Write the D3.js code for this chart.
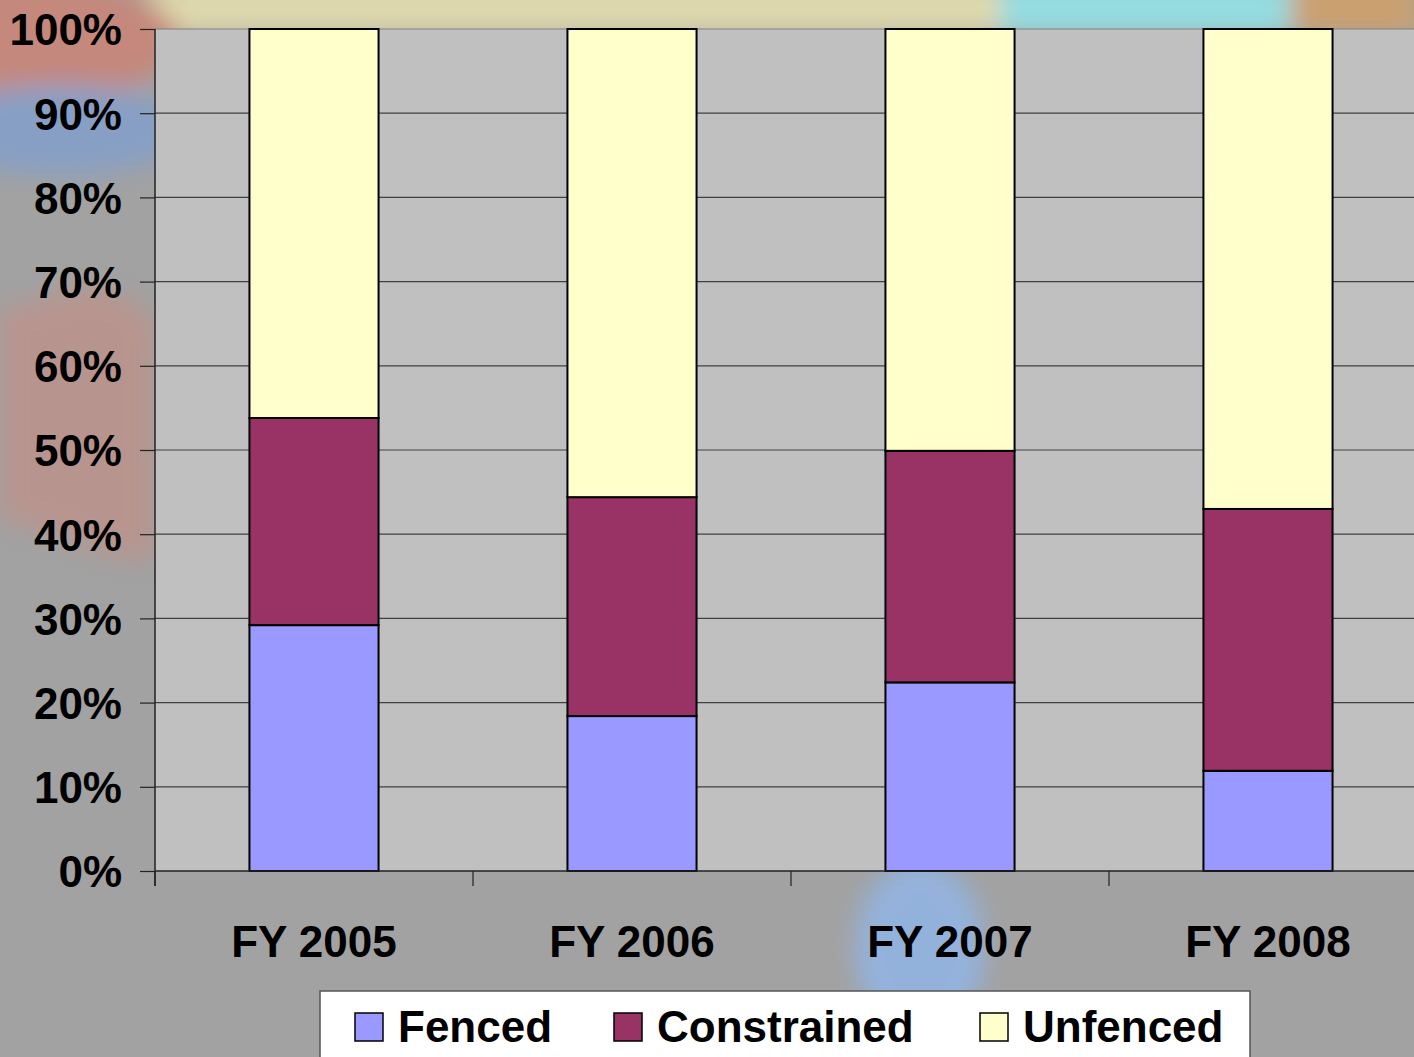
<!DOCTYPE html>
<html>
<head>
<meta charset="utf-8">
<script src="https://cdn.jsdelivr.net/npm/d3@7"></script>
<style>
  html, body { margin: 0; padding: 0; background: #a2a2a2; }
  svg { display: block; }
  text { font-family: "Liberation Sans", Arial, sans-serif; font-weight: bold; fill: #000; }
</style>
</head>
<body>
<svg id="chart" width="1414" height="1057"></svg>
<script>
// data (percent of total)
var years = ["FY 2005", "FY 2006", "FY 2007", "FY 2008"];
var fenced = [29.2, 18.4, 22.4, 11.9];
var constrained = [24.6, 26.0, 27.5, 31.1];
var unfenced = [46.2, 55.6, 50.1, 57.0];
var seriesNames = ["Fenced", "Constrained", "Unfenced"];
var seriesColors = ["#9999ff", "#993366", "#ffffcc"];
var yTicks = [0, 10, 20, 30, 40, 50, 60, 70, 80, 90, 100];

var svg = d3.select("#chart");
var W = +svg.attr("width"), H = +svg.attr("height");

// background: gray slide with some washed-out photo patches
var defs = svg.append("defs");
defs.append("filter").attr("id", "blur").append("feGaussianBlur").attr("stdDeviation", 12);
svg.append("rect").attr("width", W).attr("height", H).attr("fill", "#a2a2a2");
var deco = svg.append("g").attr("filter", "url(#blur)").attr("opacity", 0.75);
deco.append("rect").attr("x", 150).attr("y", -20).attr("width", 1264).attr("height", 55).attr("fill", "#f2eab0");
deco.append("rect").attr("x", 1000).attr("y", -20).attr("width", 300).attr("height", 55).attr("fill", "#8ff0f5");
deco.append("rect").attr("x", 1290).attr("y", -20).attr("width", 130).attr("height", 55).attr("fill", "#d8a060");
deco.append("ellipse").attr("cx", 40).attr("cy", 40).attr("rx", 140).attr("ry", 60).attr("fill", "#d08070");
deco.append("ellipse").attr("cx", 60).attr("cy", 130).attr("rx", 130).attr("ry", 45).attr("fill", "#7f9fd0");
deco.append("path").attr("d", "M0,310 C60,300 90,260 155,320 L155,560 C100,560 60,530 0,520 Z").attr("fill", "#c09088");
deco.append("ellipse").attr("cx", 920).attr("cy", 950).attr("rx", 65).attr("ry", 90).attr("fill", "#8fb8ef");

// plot geometry
var plotLeft = 155, plotTop = 29, plotBottom = 871;
var slot = 318;
var x = d3.scaleBand()
  .domain(years)
  .range([plotLeft, plotLeft + slot * years.length])
  .paddingInner(0.594)
  .paddingOuter(0.297);
var y = d3.scaleLinear().domain([0, 100]).range([plotBottom, plotTop]);

svg.append("rect")
  .attr("x", plotLeft).attr("y", plotTop)
  .attr("width", W - plotLeft).attr("height", plotBottom - plotTop)
  .attr("fill", "#c0c0c0");

// gridlines
svg.append("g").selectAll("line")
  .data(yTicks.filter(function (d) { return d > 0; }))
  .enter().append("line")
  .attr("x1", plotLeft).attr("x2", W)
  .attr("y1", function (d) { return y(d); })
  .attr("y2", function (d) { return y(d); })
  .attr("stroke", function (d) { return d === 100 ? "#808080" : "#404040"; })
  .attr("stroke-width", 1.2);

// stacked bars
var rows = years.map(function (yr, i) {
  return { year: yr, Fenced: fenced[i], Constrained: constrained[i], Unfenced: unfenced[i] };
});
var stack = d3.stack().keys(seriesNames)(rows);

svg.append("g").selectAll("g")
  .data(stack)
  .enter().append("g")
  .attr("fill", function (d, i) { return seriesColors[i]; })
  .selectAll("rect")
  .data(function (d) { return d; })
  .enter().append("rect")
  .attr("x", function (d) { return x(d.data.year); })
  .attr("width", x.bandwidth())
  .attr("y", function (d) { return y(d[1]); })
  .attr("height", function (d) { return y(d[0]) - y(d[1]); })
  .attr("stroke", "#000")
  .attr("stroke-width", 2);

// y axis
var yAxis = svg.append("g")
  .attr("transform", "translate(" + plotLeft + ",0)")
  .call(d3.axisLeft(y).tickValues(yTicks).tickSize(15).tickPadding(18)
    .tickFormat(function (d) { return d + "%"; }));
yAxis.select(".domain").attr("stroke", "#222").attr("stroke-width", 1.5).attr("d", "M0," + plotTop + "V" + (plotBottom + 15));
yAxis.selectAll(".tick line").attr("stroke", "#222").attr("stroke-width", 1.2);
yAxis.selectAll("text")
  .attr("font-size", 44)
  .attr("font-family", "Liberation Sans, Arial, sans-serif")
  .attr("font-weight", "bold")
  .attr("fill", "#000")
  .attr("dy", "0.36em");

// x axis
var xAxis = svg.append("g").attr("transform", "translate(0," + plotBottom + ")");
xAxis.append("line")
  .attr("x1", plotLeft).attr("x2", W)
  .attr("stroke", "#222").attr("stroke-width", 1.5);
xAxis.selectAll(".xt")
  .data(d3.range(years.length + 1))
  .enter().append("line")
  .attr("x1", function (i) { return plotLeft + i * x.step(); })
  .attr("x2", function (i) { return plotLeft + i * x.step(); })
  .attr("y1", 0).attr("y2", 15)
  .attr("stroke", "#222").attr("stroke-width", 1.2);
xAxis.selectAll("text")
  .data(years)
  .enter().append("text")
  .attr("x", function (d) { return x(d) + x.bandwidth() / 2; })
  .attr("y", 86)
  .attr("text-anchor", "middle")
  .attr("font-size", 44)
  .text(function (d) { return d; });

// legend
var legend = svg.append("g");
legend.append("rect")
  .attr("x", 320).attr("y", 991)
  .attr("width", 930).attr("height", 80)
  .attr("fill", "#fff").attr("stroke", "#555").attr("stroke-width", 1.5);
var legendX = [355, 614, 980];
var item = legend.selectAll(".item")
  .data(seriesNames)
  .enter().append("g")
  .attr("transform", function (d, i) { return "translate(" + legendX[i] + ",1013)"; });
item.append("rect")
  .attr("width", 28).attr("height", 28)
  .attr("fill", function (d, i) { return seriesColors[i]; })
  .attr("stroke", "#000").attr("stroke-width", 1.5);
item.append("text")
  .attr("x", 43).attr("y", 29)
  .attr("font-size", 44)
  .text(function (d) { return d; });
</script>
</body>
</html>
